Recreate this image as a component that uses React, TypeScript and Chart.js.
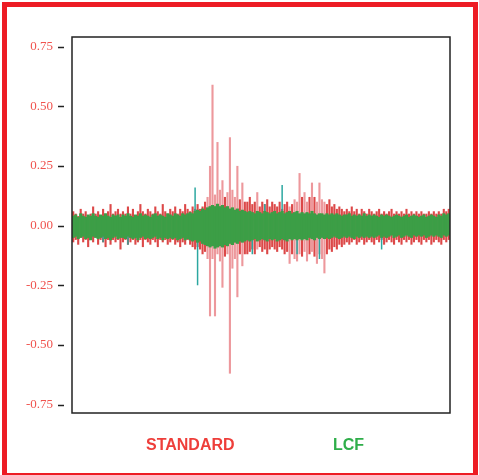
import React, { useEffect, useRef } from "react";
import { Chart, registerables } from "chart.js";

Chart.register(...registerables);

const yTicks = [-0.75, -0.5, -0.25, 0, 0.25, 0.5, 0.75];

// STANDARD signal: upper / lower excursion in each time bin
const standardHigh = [
  0.06, 0.05, 0.04, 0.07, 0.05, 0.06, 0.04, 0.05, 0.08, 0.05,
  0.06, 0.04, 0.07, 0.05, 0.06, 0.09, 0.05, 0.06, 0.07, 0.05,
  0.06, 0.05, 0.08, 0.05, 0.07, 0.04, 0.06, 0.09, 0.06, 0.05,
  0.07, 0.06, 0.05, 0.08, 0.06, 0.05, 0.09, 0.06, 0.05, 0.07,
  0.06, 0.08, 0.05, 0.07, 0.06, 0.09, 0.07, 0.06, 0.08, 0.07,
  0.09, 0.07, 0.08, 0.1, 0.12, 0.25, 0.59, 0.13, 0.35, 0.15,
  0.19, 0.12, 0.14, 0.37, 0.15, 0.12, 0.25, 0.11, 0.18, 0.1,
  0.1, 0.12, 0.09, 0.1, 0.14, 0.08, 0.1, 0.09, 0.11, 0.08,
  0.1, 0.09, 0.08, 0.1, 0.07, 0.09, 0.1, 0.08, 0.09, 0.11,
  0.1, 0.22, 0.12, 0.14, 0.1, 0.12, 0.18, 0.12, 0.1, 0.18,
  0.11, 0.1, 0.09, 0.11, 0.08, 0.09, 0.07, 0.08, 0.07, 0.06,
  0.07, 0.06, 0.08, 0.06, 0.07, 0.05, 0.07, 0.06, 0.05, 0.07,
  0.06, 0.05, 0.06, 0.07, 0.05, 0.06, 0.05, 0.06, 0.07, 0.05,
  0.06, 0.05, 0.06, 0.05, 0.07, 0.05, 0.06, 0.05, 0.06, 0.05,
  0.06, 0.05, 0.05, 0.06, 0.05, 0.06, 0.05, 0.06, 0.05, 0.07,
  0.06, 0.07,
];

const standardLow = [
  -0.07, -0.06, -0.08, -0.05, -0.07, -0.06, -0.09, -0.06, -0.07, -0.05,
  -0.08, -0.06, -0.07, -0.09, -0.06, -0.08, -0.06, -0.07, -0.06, -0.1,
  -0.07, -0.06, -0.08, -0.07, -0.06, -0.08, -0.07, -0.06, -0.09, -0.06,
  -0.07, -0.08, -0.06, -0.07, -0.09, -0.06, -0.07, -0.06, -0.08, -0.07,
  -0.06, -0.08, -0.07, -0.09, -0.07, -0.08, -0.06, -0.08, -0.09, -0.1,
  -0.09, -0.1, -0.12, -0.11, -0.14, -0.38, -0.14, -0.38, -0.12, -0.15,
  -0.26, -0.13, -0.12, -0.62, -0.18, -0.14, -0.3, -0.12, -0.17, -0.12,
  -0.12, -0.11, -0.1, -0.12, -0.1, -0.09, -0.11, -0.1, -0.12, -0.1,
  -0.09, -0.1, -0.11, -0.09, -0.1, -0.12, -0.11, -0.16, -0.12, -0.14,
  -0.15, -0.12, -0.13, -0.11, -0.15, -0.12, -0.11, -0.13, -0.16, -0.12,
  -0.14, -0.2, -0.12, -0.1, -0.11, -0.09, -0.1, -0.08, -0.09, -0.08,
  -0.07, -0.08, -0.07, -0.06, -0.08, -0.07, -0.06, -0.08, -0.07, -0.06,
  -0.07, -0.08, -0.06, -0.07, -0.06, -0.08, -0.07, -0.06, -0.07, -0.08,
  -0.06, -0.07, -0.08, -0.06, -0.07, -0.06, -0.08, -0.07, -0.06, -0.07,
  -0.08, -0.06, -0.07, -0.06, -0.08, -0.07, -0.06, -0.07, -0.08, -0.06,
  -0.07, -0.06,
];

// LCF signal: upper / lower excursion in each time bin
const lcfHigh = [
  0.04, 0.045, 0.035, 0.05, 0.04, 0.035, 0.045, 0.04, 0.05, 0.04,
  0.035, 0.045, 0.04, 0.05, 0.04, 0.035, 0.045, 0.04, 0.045, 0.035,
  0.045, 0.04, 0.05, 0.04, 0.035, 0.045, 0.04, 0.05, 0.04, 0.045,
  0.04, 0.035, 0.045, 0.05, 0.04, 0.045, 0.04, 0.035, 0.05, 0.045,
  0.04, 0.05, 0.045, 0.04, 0.05, 0.045, 0.05, 0.055, 0.05, 0.06,
  0.065, 0.06, 0.07, 0.065, 0.075, 0.08, 0.085, 0.08, 0.09, 0.08,
  0.085, 0.075, 0.08, 0.07, 0.075, 0.065, 0.07, 0.06, 0.065, 0.06,
  0.055, 0.06, 0.055, 0.05, 0.06, 0.055, 0.05, 0.06, 0.055, 0.05,
  0.055, 0.06, 0.05, 0.055, 0.06, 0.05, 0.055, 0.06, 0.05, 0.055,
  0.06, 0.05, 0.055, 0.05, 0.055, 0.05, 0.06, 0.05, 0.045, 0.05,
  0.05, 0.045, 0.05, 0.045, 0.05, 0.045, 0.05, 0.045, 0.04, 0.045,
  0.045, 0.05, 0.04, 0.045, 0.04, 0.045, 0.04, 0.05, 0.04, 0.045,
  0.04, 0.045, 0.04, 0.035, 0.045, 0.04, 0.045, 0.04, 0.035, 0.04,
  0.045, 0.04, 0.035, 0.04, 0.045, 0.035, 0.04, 0.045, 0.04, 0.035,
  0.04, 0.045, 0.035, 0.04, 0.045, 0.04, 0.035, 0.045, 0.04, 0.05,
  0.045, 0.05,
];

const lcfLow = [
  -0.05, -0.045, -0.055, -0.05, -0.045, -0.055, -0.05, -0.06, -0.045, -0.05,
  -0.055, -0.05, -0.045, -0.055, -0.05, -0.06, -0.05, -0.045, -0.055, -0.05,
  -0.05, -0.055, -0.045, -0.05, -0.055, -0.05, -0.06, -0.05, -0.045, -0.055,
  -0.05, -0.055, -0.05, -0.045, -0.055, -0.05, -0.06, -0.05, -0.055, -0.05,
  -0.055, -0.05, -0.06, -0.055, -0.05, -0.06, -0.055, -0.06, -0.065, -0.06,
  -0.07, -0.065, -0.075, -0.08, -0.085, -0.09, -0.085, -0.095, -0.09, -0.085,
  -0.09, -0.08, -0.085, -0.075, -0.08, -0.07, -0.075, -0.065, -0.07, -0.065,
  -0.06, -0.065, -0.06, -0.055, -0.065, -0.06, -0.055, -0.06, -0.065, -0.055,
  -0.06, -0.055, -0.065, -0.06, -0.055, -0.06, -0.065, -0.055, -0.06, -0.055,
  -0.06, -0.055, -0.06, -0.055, -0.06, -0.05, -0.055, -0.06, -0.05, -0.055,
  -0.05, -0.055, -0.05, -0.055, -0.05, -0.045, -0.05, -0.055, -0.05, -0.045,
  -0.05, -0.045, -0.05, -0.055, -0.045, -0.05, -0.045, -0.05, -0.045, -0.05,
  -0.045, -0.05, -0.045, -0.04, -0.05, -0.045, -0.05, -0.045, -0.04, -0.05,
  -0.045, -0.04, -0.05, -0.045, -0.04, -0.045, -0.05, -0.04, -0.045, -0.04,
  -0.045, -0.04, -0.05, -0.045, -0.04, -0.045, -0.04, -0.045, -0.05, -0.04,
  -0.045, -0.04,
];

// isolated LCF excursions (bin index, low, high)
const lcfSpikeBins = [12, 22, 49, 50, 72, 77, 84, 90, 99, 124];
const lcfSpikeLow = [-0.07, -0.08, -0.02, -0.25, -0.12, -0.02, -0.02, -0.12, -0.14, -0.1];
const lcfSpikeHigh = [0.03, 0.03, 0.16, 0.02, 0.02, 0.09, 0.17, 0.02, 0.02, 0.02];

const framePlugin = {
  id: "frameTicks",
  afterDraw(chart: any) {
    const { ctx, chartArea } = chart;
    const y = chart.scales.y;
    ctx.save();
    ctx.strokeStyle = "#222";
    ctx.lineWidth = 1.5;
    ctx.strokeRect(
      chartArea.left,
      chartArea.top,
      chartArea.right - chartArea.left,
      chartArea.bottom - chartArea.top
    );
    for (const v of yTicks) {
      const py = Math.round(y.getPixelForValue(v)) + 0.5;
      ctx.beginPath();
      ctx.moveTo(chartArea.left - 14, py);
      ctx.lineTo(chartArea.left - 8, py);
      ctx.stroke();
    }
    ctx.restore();
  },
};

export default function App() {
  const ref = useRef<HTMLCanvasElement>(null);

  useEffect(() => {
    if (!ref.current) return;
    const labels = standardHigh.map((_, i) => i);
    const standardData = standardHigh.map((h, i) => [standardLow[i], h]);
    const lcfData = lcfHigh.map((h, i) => [lcfLow[i], h]);
    const spikeData: any[] = labels.map(() => null);
    lcfSpikeBins.forEach((b, k) => {
      spikeData[b] = [lcfSpikeLow[k], lcfSpikeHigh[k]];
    });

    const chart = new Chart(ref.current, {
      type: "bar",
      data: {
        labels,
        datasets: [
          {
            label: "LCF",
            data: lcfData as any,
            backgroundColor: "#3c9e46",
            order: 0,
          },
          {
            label: "LCF spikes",
            data: spikeData,
            backgroundColor: "#2ba7a0",
            barPercentage: 0.6,
            order: 1,
          },
          {
            label: "STANDARD",
            data: standardData as any,
            backgroundColor: (c: any) => {
              const v = c.raw;
              if (v && (v[1] > 0.13 || v[0] < -0.13)) return "rgba(224,78,84,0.58)";
              return "rgba(214,40,40,0.85)";
            },
            barPercentage: 0.85,
            order: 2,
          },
        ],
      },
      options: {
        animation: false,
        responsive: false,
        datasets: { bar: { grouped: false, barPercentage: 1, categoryPercentage: 1, borderWidth: 0 } },
        layout: { padding: { left: 0, top: 37, right: 29, bottom: 62 } },
        plugins: { legend: { display: false }, tooltip: { enabled: false } },
        scales: {
          x: { display: false },
          y: {
            min: -0.785,
            max: 0.79,
            afterBuildTicks: (s: any) => {
              s.ticks = yTicks.map((v) => ({ value: v }));
            },
            afterFit: (s: any) => {
              s.width = 72;
            },
            grid: { display: false, drawTicks: false },
            border: { display: false },
            ticks: {
              padding: 19,
              color: "#f0534e",
              font: { family: "'Liberation Serif', 'Times New Roman', serif", size: 13 },
              callback: (v: any) => Number(v).toFixed(2),
            },
          },
        },
      },
      plugins: [framePlugin],
    });
    return () => chart.destroy();
  }, []);

  return (
    <div style={{ position: "fixed", left: 0, top: 0, width: 479, height: 475, background: "#fff", overflow: "hidden" }}>
      <canvas ref={ref} width={479} height={475} style={{ position: "absolute", left: 0, top: 0 }} />
      <div
        style={{
          position: "absolute",
          left: 2,
          top: 2,
          width: 476,
          height: 476,
          border: "5px solid #ed1c24",
          boxSizing: "border-box",
          pointerEvents: "none",
        }}
      />
      <div
        style={{
          position: "absolute",
          left: 146,
          top: 437,
          font: "bold 16px 'Liberation Sans', Arial, sans-serif",
          lineHeight: 1,
          color: "#ee3e3a",
          whiteSpace: "nowrap",
        }}
      >
        STANDARD
      </div>
      <div
        style={{
          position: "absolute",
          left: 333,
          top: 437,
          font: "bold 16px 'Liberation Sans', Arial, sans-serif",
          lineHeight: 1,
          color: "#2fae4a",
          whiteSpace: "nowrap",
        }}
      >
        LCF
      </div>
    </div>
  );
}
